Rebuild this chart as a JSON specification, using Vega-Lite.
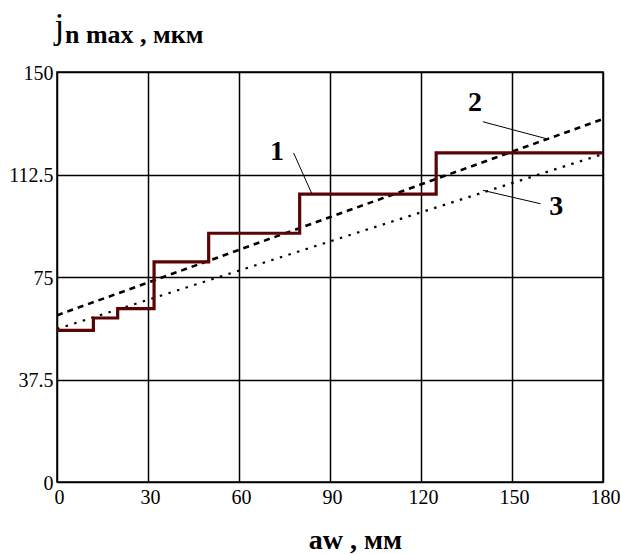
{
  "$schema": "https://vega.github.io/schema/vega-lite/v6.json",
  "width": 546,
  "height": 410,
  "autosize": "none",
  "padding": {"left": 57, "top": 72, "right": 18, "bottom": 72},
  "background": "white",
  "title": {
    "text": "n max , мкм",
    "anchor": "start",
    "frame": "group",
    "orient": "top",
    "font": "Liberation Serif",
    "fontSize": 26,
    "fontWeight": "bold",
    "color": "black",
    "dx": 8,
    "offset": 0,
    "dy": 60,
    "baseline": "alphabetic"
  },
  "config": {
    "view": {"stroke": "black", "strokeWidth": 1.5},
    "axis": {
      "grid": true,
      "gridColor": "black",
      "gridWidth": 1.5,
      "gridOpacity": 1,
      "domain": false,
      "ticks": false,
      "labelFont": "Liberation Serif",
      "labelFontSize": 20,
      "labelColor": "black",
      "titleFont": "Liberation Serif",
      "titleColor": "black"
    }
  },
  "datasets": {
    "steps": [
      {"aw": 0, "j": 55.5},
      {"aw": 12, "j": 60},
      {"aw": 20, "j": 63.4},
      {"aw": 32, "j": 80.5},
      {"aw": 50, "j": 91},
      {"aw": 80, "j": 105.3},
      {"aw": 125, "j": 120.4},
      {"aw": 180, "j": 120.4}
    ],
    "line2": [
      {"aw": 0, "j": 61},
      {"aw": 180, "j": 132.8}
    ],
    "line3": [
      {"aw": 0, "j": 56},
      {"aw": 180, "j": 120}
    ],
    "leaders": [
      {"id": "1", "aw": 78, "j": 120.4},
      {"id": "1", "aw": 84, "j": 105.5},
      {"id": "2", "aw": 140.4, "j": 131.8},
      {"id": "2", "aw": 162, "j": 125.4},
      {"id": "3", "aw": 159.4, "j": 101.8},
      {"id": "3", "aw": 140.4, "j": 106.7}
    ],
    "labels": [
      {"label": "1", "aw": 72.5, "j": 120.6},
      {"label": "2", "aw": 137.8, "j": 138.5},
      {"label": "3", "aw": 164.6, "j": 100.5}
    ]
  },
  "encoding": {
    "x": {
      "field": "aw",
      "type": "quantitative",
      "scale": {"domain": [0, 180], "nice": false, "zero": false},
      "axis": {
        "values": [0, 30, 60, 90, 120, 150, 180],
        "labelPadding": 5,
        "labelOffset": 2,
        "labelFlush": false,
        "title": "aw , мм",
        "titleFontSize": 28,
        "titleFontWeight": "bold",
        "titleBaseline": "alphabetic",
        "titleX": 298,
        "titleY": 66
      }
    },
    "y": {
      "field": "j",
      "type": "quantitative",
      "scale": {"domain": [0, 150], "nice": false, "zero": false},
      "axis": {
        "values": [0, 37.5, 75, 112.5, 150],
        "format": ".1~f",
        "labelPadding": 4,
        "labelOffset": 1,
        "labelFlush": false,
        "title": "j",
        "titleFontSize": 35,
        "titleFontWeight": "normal",
        "titleAngle": 0,
        "titleAlign": "left",
        "titleBaseline": "alphabetic",
        "titleX": -3,
        "titleY": -35
      }
    }
  },
  "layer": [
    {
      "data": {"name": "line3"},
      "mark": {"type": "line", "color": "black", "strokeWidth": 2.2, "strokeDash": [2.5, 6.5], "clip": true}
    },
    {
      "data": {"name": "line2"},
      "mark": {"type": "line", "color": "black", "strokeWidth": 2.6, "strokeDash": [6, 5], "clip": true}
    },
    {
      "data": {"name": "steps"},
      "mark": {"type": "line", "color": "#5a0505", "strokeWidth": 3.2, "interpolate": "step-after", "clip": true}
    },
    {
      "data": {"name": "leaders"},
      "mark": {"type": "line", "color": "black", "strokeWidth": 1},
      "encoding": {"detail": {"field": "id"}}
    },
    {
      "data": {"name": "labels"},
      "mark": {"type": "text", "font": "Liberation Serif", "fontSize": 28, "fontWeight": "bold", "color": "black", "baseline": "middle", "align": "center"},
      "encoding": {"text": {"field": "label"}}
    }
  ]
}
